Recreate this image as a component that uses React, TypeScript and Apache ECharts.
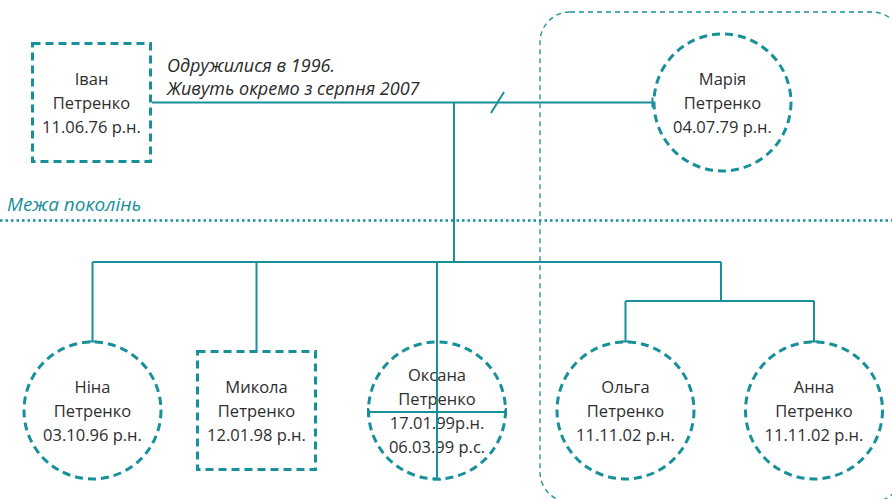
import React, { useEffect, useRef } from 'react';
import * as echarts from 'echarts';

// ---- data ----
const firstNames = ['Іван', 'Марія', 'Ніна', 'Микола', 'Оксана', 'Ольга', 'Анна'];
const surnames = ['Петренко', 'Петренко', 'Петренко', 'Петренко', 'Петренко', 'Петренко', 'Петренко'];
const dates = ['11.06.76 р.н.', '04.07.79 р.н.', '03.10.96 р.н.', '12.01.98 р.н.', '17.01.99р.н.\n06.03.99 р.с.', '11.11.02 р.н.', '11.11.02 р.н.'];
const sexes = ['m', 'f', 'f', 'm', 'f', 'f', 'f'];
const generations = [0, 0, 1, 1, 1, 1, 1];
const marriageNote = ['Одружилися в 1996.', 'Живуть окремо з серпня 2007'];
const generationLabel = 'Межа поколінь';

// ---- layout (axis units) ----
const layoutX = [91.5, 722.5, 92.5, 256.5, 437, 625.5, 814];
const generationY = [102.5, 410.5];
const siblingBarY = 262;
const twinForkX = 721;
const twinBarY = 301;
const parentDropX = 454;
const boundaryY = 220.5;

const TEAL = '#17909a';
const CIRCLE = 137;
const BOX = 118;

export default function App() {
  const ref = useRef<HTMLDivElement>(null);
  useEffect(() => {
    if (!ref.current) return;
    const chart = echarts.init(ref.current, null, { renderer: 'svg' });
    const px = (i: number) => layoutX[i];
    const py = (i: number) => generationY[generations[i]];
    const half = (i: number) => (sexes[i] === 'f' ? CIRCLE / 2 + 1.5 : BOX / 2 + 1.5);

    const nodes = firstNames.map((n, i) => ({
      name: `${n}\n${surnames[i]}\n${dates[i]}`,
      value: [px(i), py(i)],
      symbol: sexes[i] === 'f' ? 'circle' : 'rect',
      symbolSize: sexes[i] === 'f' ? CIRCLE : BOX,
    }));

    const cap = 4;
    const segs: number[][][] = [];
    // marriage line
    segs.push([[px(0) + half(0), py(0)], [px(1) - half(1), py(1)]]);
    segs.push([[px(1) - half(1), py(1) - cap - 1], [px(1) - half(1), py(1) + cap + 1]]);
    // separation slash
    segs.push([[parentDropX + 37, py(0) + 10.5], [parentDropX + 50, py(0) - 10.5]]);
    // parent drop
    segs.push([[parentDropX, py(0)], [parentDropX, siblingBarY]]);
    // sibling bar
    segs.push([[px(2), siblingBarY], [twinForkX, siblingBarY]]);
    // Nina, Mykola drops
    segs.push([[px(2), siblingBarY], [px(2), py(2) - half(2) + 1]]);
    segs.push([[px(2) - cap, py(2) - half(2) + 1], [px(2) + cap, py(2) - half(2) + 1]]);
    segs.push([[px(3), siblingBarY], [px(3), py(3) - half(3) + 1]]);
    // Oksana drop through to bottom + cross
    segs.push([[px(4), siblingBarY], [px(4), py(4) + half(4) - 1]]);
    segs.push([[px(4) - cap, py(4) + half(4) - 1], [px(4) + cap, py(4) + half(4) - 1]]);
    segs.push([[px(4) - half(4) + 1, py(4) + 1.5], [px(4) + half(4) - 1, py(4) + 1.5]]);
    segs.push([[px(4) - half(4) + 1, py(4) + 1.5 - cap], [px(4) - half(4) + 1, py(4) + 1.5 + cap]]);
    segs.push([[px(4) + half(4) - 1, py(4) + 1.5 - cap], [px(4) + half(4) - 1, py(4) + 1.5 + cap]]);
    // twins
    segs.push([[twinForkX, siblingBarY], [twinForkX, twinBarY]]);
    segs.push([[px(5), twinBarY], [px(6), twinBarY]]);
    segs.push([[px(5), twinBarY], [px(5), py(5) - half(5) + 1]]);
    segs.push([[px(5) - cap, py(5) - half(5) + 1], [px(5) + cap, py(5) - half(5) + 1]]);
    segs.push([[px(6), twinBarY], [px(6), py(6) - half(6) + 1]]);
    segs.push([[px(6) - cap, py(6) - half(6) + 1], [px(6) + cap, py(6) - half(6) + 1]]);

    chart.setOption({
      animation: false,
      grid: { left: 0, right: 0, top: 0, bottom: 0 },
      xAxis: { type: 'value', min: 0, max: 892, show: false },
      yAxis: { type: 'value', min: 0, max: 499, inverse: true, show: false },
      graphic: [
        {
          type: 'rect',
          z: 0,
          shape: { x: 540, y: 12, width: 362, height: 490, r: 30 },
          style: { fill: 'none', stroke: TEAL, lineWidth: 1.3, lineDash: [5, 4] },
          silent: true,
        },
        {
          type: 'text',
          x: 167,
          y: 53,
          style: {
            text: marriageNote.join('\n'),
            font: 'italic 18px "Open Sans"',
            lineHeight: 23,
            fill: '#2a2a2a',
          },
          silent: true,
        },
        {
          type: 'text',
          x: 7,
          y: 194,
          style: {
            text: generationLabel,
            font: 'italic 19px "Open Sans"',
            fill: TEAL,
          },
          silent: true,
        },
      ],
      series: [
        {
          type: 'lines',
          coordinateSystem: 'cartesian2d',
          polyline: true,
          silent: true,
          z: 1,
          data: [{ coords: [[0, boundaryY], [892, boundaryY]] }],
          lineStyle: { color: TEAL, width: 2.5, type: [2.5, 3], opacity: 1 },
        },
        {
          type: 'scatter',
          silent: true,
          z: 2,
          data: nodes,
          itemStyle: { color: '#fff', borderColor: TEAL, borderWidth: 3, borderType: [8, 5], opacity: 1 },
          label: {
            show: true,
            position: 'inside',
            formatter: '{b}',
            color: '#2e2e2e',
            fontFamily: 'Open Sans',
            fontSize: 16.5,
            lineHeight: 24,
          },
        },
        {
          type: 'lines',
          coordinateSystem: 'cartesian2d',
          polyline: true,
          silent: true,
          z: 3,
          data: segs.map((c) => ({ coords: c })),
          lineStyle: { color: TEAL, width: 2, opacity: 1 },
        },
      ],
    });
    return () => chart.dispose();
  }, []);
  return <div ref={ref} style={{ position: 'fixed', left: 0, top: 0, width: 892, height: 499, background: '#fff' }} />;
}
